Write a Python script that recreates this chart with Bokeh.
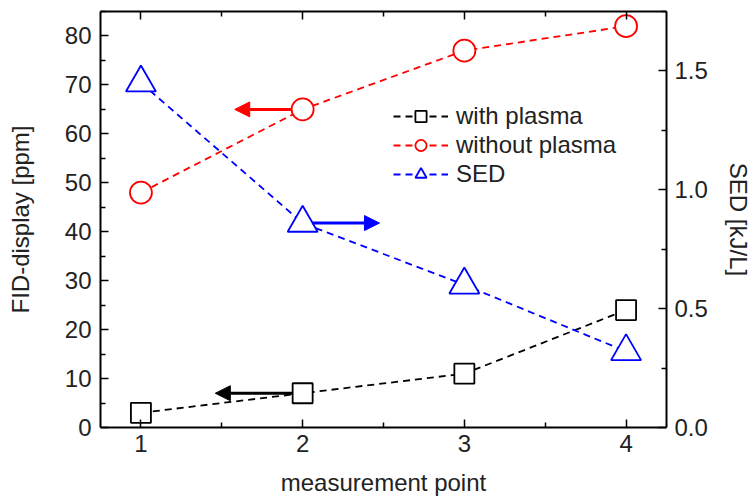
from bokeh.plotting import figure
from bokeh.models import (Range1d, LinearAxis, Arrow, NormalHead, Legend, LegendItem,
                          FixedTicker, PrintfTickFormatter, CustomJSTickFormatter)
from bokeh.embed import file_html
from bokeh.resources import INLINE

# ---- data ----
points = [1, 2, 3, 4]
with_plasma = [3, 7, 11, 24]          # FID-display [ppm]
without_plasma = [48, 65, 77, 82]     # FID-display [ppm]
sed = [1.45, 0.86, 0.60, 0.32]        # SED [kJ/L]
x_ticks = [1, 2, 3, 4]
y_ticks = [0, 10, 20, 30, 40, 50, 60, 70, 80]
y2_ticks = [0.0, 0.5, 1.0, 1.5]
# arrow end positions (x) for the axis-indicator arrows
arrow_end_black = 1.46
arrow_end_red = 1.58
arrow_end_blue = 2.475

FONT = "Liberation Sans"
FS = "24px"

p = figure(width=754, height=498, output_backend="svg", toolbar_location=None,
           x_range=Range1d(0.75, 4.25), y_range=Range1d(0, 85),
           min_border_left=100, min_border_right=87, min_border_top=11,
           min_border_bottom=71)
p.extra_y_ranges = {"sed": Range1d(0, 1.75)}
p.xgrid.visible = False
p.ygrid.visible = False
p.outline_line_color = None
p.background_fill_color = "white"
p.border_fill_color = "white"


def style_axis(ax):
    ax.axis_line_width = 2
    ax.axis_line_color = "black"
    ax.major_tick_in = 8
    ax.major_tick_out = 0
    ax.minor_tick_in = 5
    ax.minor_tick_out = 0
    ax.major_tick_line_width = 1.5
    ax.minor_tick_line_width = 1.5
    ax.major_label_text_font = FONT
    ax.major_label_text_font_size = FS
    ax.major_label_text_color = "#222222"
    ax.major_label_standoff = 9
    ax.axis_label_text_font = FONT
    ax.axis_label_text_font_size = FS
    ax.axis_label_text_font_style = "normal"
    ax.axis_label_text_color = "#222222"


xax = p.xaxis[0]
xax.ticker = FixedTicker(ticks=x_ticks, minor_ticks=[1.5, 2.5, 3.5])
xax.axis_label = "measurement point"
style_axis(xax)
xax.major_label_standoff = 7
xax.axis_label_standoff = 14

yax = p.yaxis[0]
yax.ticker = FixedTicker(ticks=y_ticks, minor_ticks=[5, 15, 25, 35, 45, 55, 65, 75, 85])
yax.axis_label = "FID-display [ppm]"
style_axis(yax)
yax.axis_label_standoff = 28

top = LinearAxis(ticker=FixedTicker(ticks=x_ticks, minor_ticks=[1.5, 2.5, 3.5]),
                 formatter=CustomJSTickFormatter(code="return ''"))
style_axis(top)
top.major_label_text_font_size = "6px"
top.major_label_standoff = 0
p.add_layout(top, "above")

right = LinearAxis(y_range_name="sed",
                   ticker=FixedTicker(ticks=y2_ticks,
                                      minor_ticks=[0.25, 0.75, 1.25, 1.75]),
                   formatter=PrintfTickFormatter(format="%.1f"))
right.axis_label = "SED [kJ/L]"
style_axis(right)
right.major_label_standoff = 8
right.axis_label_standoff = 14
p.add_layout(right, "right")

# ---- series ----
dash = "7 5"
l1 = p.line(points, with_plasma, line_color="black", line_width=1.8, line_dash=dash)
m1 = p.scatter(points, with_plasma, marker="square", size=20, line_color="black",
               line_width=1.8, fill_color="white")
l2 = p.line(points, without_plasma, line_color="red", line_width=1.8, line_dash=dash)
m2 = p.scatter(points, without_plasma, marker="circle", size=22, line_color="red",
               line_width=1.8, fill_color="white")
l3 = p.line(points, sed, line_color="blue", line_width=1.8, line_dash=dash,
            y_range_name="sed")
m3 = p.scatter(points, sed, marker="triangle", size=30, line_color="blue",
               line_width=1.8, fill_color="white", y_range_name="sed")

# ---- arrows ----
def add_arrow(x0, y0, x1, color, rng="default"):
    p.add_layout(Arrow(end=NormalHead(size=15, fill_color=color, line_color=color),
                       x_start=x0, y_start=y0, x_end=x1, y_end=y0,
                       line_color=color, line_width=3, y_range_name=rng))

add_arrow(points[1] - 0.065, with_plasma[1], arrow_end_black, "black")
add_arrow(points[1] - 0.07, without_plasma[1], arrow_end_red, "red")
add_arrow(points[1] + 0.06, sed[1], arrow_end_blue, "blue", "sed")

# ---- legend ----
legend = Legend(items=[
    LegendItem(label="with plasma", renderers=[l1, m1]),
    LegendItem(label="without plasma", renderers=[l2, m2]),
    LegendItem(label="SED", renderers=[l3, m3]),
], location=(293, 239))
legend.border_line_color = None
legend.background_fill_alpha = 0
legend.label_text_font = FONT
legend.label_text_font_size = FS
legend.label_text_color = "#222222"
legend.glyph_width = 55
legend.glyph_height = 28
legend.label_height = 28
legend.spacing = 1
legend.padding = 0
legend.margin = 0
legend.label_standoff = 8
p.add_layout(legend, "center")

open("out.html", "w").write(file_html(p, INLINE))
